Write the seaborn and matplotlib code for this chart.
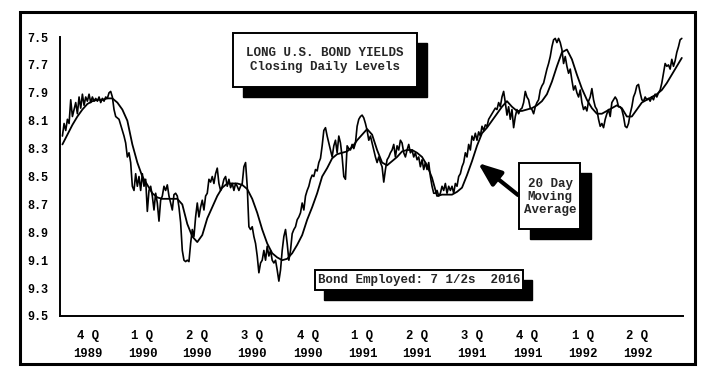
import numpy as np
import pandas as pd
import matplotlib
matplotlib.use("Agg")
import matplotlib.pyplot as plt
from matplotlib.patches import Rectangle, FancyArrowPatch
import seaborn as sns

# =============================================================================
# DATA
# =============================================================================

FIRST_DAY = "1989-10-05"
LAST_DAY = "1992-07-29"

# closing daily yields, evenly spaced samples from first to last day
RAW_YIELD = [
    # 4Q 1989 - 2Q 1990
    8.21, 8.12, 8.17, 8.09, 8.12, 7.95, 8.07, 8.02, 7.97, 8.05,
    7.93, 8.01, 7.91, 7.99, 7.93, 7.96, 7.91, 7.97, 7.93, 7.96,
    7.94, 7.96, 7.93, 7.97, 7.94, 7.96, 7.93, 7.94, 7.90, 7.89,
    7.93, 8.02, 8.07, 8.08, 8.09, 8.13, 8.17, 8.21, 8.26, 8.36,
    8.33, 8.40, 8.57, 8.60, 8.48, 8.57, 8.50, 8.60, 8.48, 8.57,
    8.52, 8.75, 8.60, 8.57, 8.64, 8.74, 8.62, 8.69, 8.82, 8.67,
    8.64, 8.57, 8.60, 8.56, 8.64, 8.69, 8.74, 8.63, 8.62, 8.64,
    8.72, 8.83, 9.03, 9.10, 9.11, 9.10,
    # 2Q 1990 - 4Q 1990
    9.11, 8.98, 8.88, 8.93, 8.79, 8.69, 8.79, 8.72, 8.67, 8.74,
    8.64, 8.62, 8.52, 8.54, 8.50, 8.55, 8.48, 8.44, 8.55, 8.60,
    8.57, 8.52, 8.50, 8.57, 8.52, 8.58, 8.55, 8.60, 8.55, 8.57,
    8.60, 8.57, 8.55, 8.43, 8.40, 8.57, 8.86, 8.88, 8.86, 8.93,
    8.98, 9.07, 9.19, 9.12, 9.10, 9.03, 9.10, 9.00, 9.07, 9.03,
    9.10, 9.12, 9.10, 9.17, 9.25, 9.17, 9.03, 8.93, 8.88, 8.98,
    9.10, 9.03, 8.91, 8.88, 8.86, 8.81, 8.79, 8.76, 8.69, 8.74,
    8.64, 8.60, 8.57,
    # 4Q 1990 - 3Q 1991
    8.52, 8.49, 8.50, 8.45, 8.46, 8.40, 8.37, 8.28, 8.17, 8.15,
    8.21, 8.26, 8.31, 8.36, 8.28, 8.24, 8.33, 8.21, 8.26, 8.36,
    8.50, 8.52, 8.28, 8.30, 8.31, 8.27, 8.30, 8.26, 8.14, 8.09,
    8.07, 8.06, 8.08, 8.12, 8.17, 8.24, 8.21, 8.26, 8.31, 8.36,
    8.40, 8.36, 8.40, 8.43, 8.54, 8.45, 8.38, 8.36, 8.33, 8.31,
    8.27, 8.36, 8.28, 8.31, 8.24, 8.26, 8.33, 8.36, 8.31, 8.27,
    8.33, 8.31, 8.36, 8.33, 8.38, 8.36, 8.43, 8.38, 8.45, 8.40,
    8.45, 8.40, 8.50, 8.57, 8.62,
    # 3Q 1991 - 1Q 1992
    8.62, 8.60, 8.64, 8.62, 8.57, 8.60, 8.55, 8.62, 8.57, 8.60,
    8.57, 8.62, 8.55, 8.57, 8.50, 8.48, 8.43, 8.40, 8.33, 8.36,
    8.27, 8.31, 8.21, 8.24, 8.19, 8.24, 8.18, 8.21, 8.14, 8.17,
    8.13, 8.14, 8.09, 8.07, 8.05, 8.03, 8.01, 8.02, 7.97, 8.00,
    7.93, 7.89, 7.97, 8.06, 8.00, 8.09, 8.02, 8.15, 8.07, 8.02,
    8.05, 8.02, 8.01, 7.97, 7.89, 7.93, 7.95, 8.01, 8.02, 8.05,
    8.00, 7.97, 7.95, 7.88, 7.85, 7.83, 7.78, 7.73, 7.69, 7.64,
    7.57, 7.52, 7.51, 7.54, 7.51,
    # 1Q 1992 - 3Q 1992
    7.54, 7.59, 7.69, 7.64, 7.71, 7.76, 7.73, 7.81, 7.88, 7.85,
    7.90, 7.93, 7.88, 7.97, 8.02, 8.00, 8.03, 7.96, 7.93, 7.87,
    7.95, 8.00, 8.02, 8.09, 8.14, 8.12, 8.15, 8.09, 8.05, 8.02,
    8.07, 7.97, 7.95, 7.93, 7.95, 8.00, 8.00, 8.02, 8.07, 8.14,
    8.15, 8.12, 8.05, 8.00, 7.93, 7.90, 7.85, 7.84, 7.90, 7.95,
    7.96, 7.93, 7.95, 7.94, 7.96, 7.93, 7.95, 7.91, 7.93, 7.90,
    7.88, 7.83, 7.76, 7.69, 7.71, 7.70, 7.73, 7.66, 7.71, 7.67,
    7.61, 7.57, 7.52, 7.51,
]

# 20 day moving average, evenly spaced samples over the same span
MA20_YIELD = [
    8.27, 8.20, 8.13, 8.07, 8.02, 7.98, 7.96, 7.95, 7.95, 7.94,
    7.94, 7.97, 8.02, 8.10, 8.27, 8.40, 8.50, 8.56, 8.62, 8.65,
    8.66, 8.66, 8.66, 8.66, 8.70,
    8.84, 8.93, 8.97, 8.92, 8.80, 8.72, 8.64, 8.58, 8.55, 8.55,
    8.55, 8.56, 8.59, 8.66, 8.76, 8.88, 8.98, 9.05, 9.08, 9.10,
    9.09, 9.05, 8.99, 8.92, 8.81,
    8.72, 8.62, 8.50, 8.44, 8.37, 8.34, 8.33, 8.32, 8.29, 8.24,
    8.20, 8.16, 8.20, 8.31, 8.40, 8.42, 8.39, 8.36, 8.32, 8.31,
    8.31, 8.33, 8.36, 8.42, 8.51,
    8.64, 8.63, 8.63, 8.63, 8.61, 8.58, 8.49, 8.39, 8.28, 8.19,
    8.15, 8.10, 8.05, 8.00, 7.96, 8.00, 8.03, 8.03, 8.02, 8.01,
    7.99, 7.96, 7.91, 7.82, 7.71,
    7.61, 7.59, 7.66, 7.77, 7.87, 7.95, 8.01, 8.05, 8.05, 8.03,
    8.01, 7.99, 8.01, 8.07, 8.07, 8.02, 7.97, 7.95, 7.93, 7.91,
    7.88, 7.83, 7.77, 7.71, 7.65,
]

QUARTER_STARTS = [
    "1989-10-01", "1990-01-01", "1990-04-01", "1990-07-01", "1990-10-01",
    "1991-01-01", "1991-04-01", "1991-07-01", "1991-10-01", "1992-01-01",
    "1992-04-01", "1992-07-01",
]
QUARTER_LABELS = [
    "4 Q\n1989", "1 Q\n1990", "2 Q\n1990", "3 Q\n1990", "4 Q\n1990",
    "1 Q\n1991", "2 Q\n1991", "3 Q\n1991", "4 Q\n1991", "1 Q\n1992",
    "2 Q\n1992",
]
AXIS_END = "1992-07-31"
Y_TICKS = [7.5, 7.7, 7.9, 8.1, 8.3, 8.5, 8.7, 8.9, 9.1, 9.3, 9.5]

TITLE_LINES = "LONG U.S. BOND YIELDS\nClosing Daily Levels"
MA_NOTE = "20 Day\nMoving\nAverage"
BOND_NOTE = "Bond Employed: 7 1/2s  2016"

# =============================================================================
# LAYOUT HELPERS (figure pixels, origin top-left)
# =============================================================================

W, H = 712, 377


def fx(px):
    return px / W


def fy(py):
    return 1 - py / H


def shadow_box(fig, x0, y0, x1, y1, dx=10, dy=10):
    w, h = (x1 - x0) / W, (y1 - y0) / H
    fig.add_artist(Rectangle((fx(x0 + dx), fy(y1 + dy)), w, h,
                             transform=fig.transFigure, facecolor="black",
                             edgecolor="black", zorder=5))
    fig.add_artist(Rectangle((fx(x0), fy(y1)), w, h,
                             transform=fig.transFigure, facecolor="white",
                             edgecolor="black", lw=1.4, zorder=6))


# =============================================================================
# PLOT
# =============================================================================

sns.set_theme(style="white")
plt.rcParams["font.family"] = ["Liberation Mono", "DejaVu Sans Mono"]
plt.rcParams["font.weight"] = "bold"

raw_df = pd.DataFrame({
    "date": pd.date_range(FIRST_DAY, LAST_DAY, periods=len(RAW_YIELD)),
    "yield": RAW_YIELD,
})
ma_df = pd.DataFrame({
    "date": pd.date_range(FIRST_DAY, LAST_DAY, periods=len(MA20_YIELD)),
    "yield": MA20_YIELD,
})

fig = plt.figure(figsize=(W / 100, H / 100), dpi=100)
fig.patch.set_facecolor("white")
ax = fig.add_axes([fx(60), fy(316), (683 - 60) / W, (316 - 37) / H])

sns.lineplot(data=raw_df, x="date", y="yield", color="black", lw=1.2, ax=ax)
sns.lineplot(data=ma_df, x="date", y="yield", color="black", lw=1.3, ax=ax)

q = pd.to_datetime(QUARTER_STARTS)
ax.set_xlim(q[0], pd.Timestamp(AXIS_END))
ax.set_ylim(Y_TICKS[-1], Y_TICKS[0])

ax.set_yticks(Y_TICKS)
ax.set_yticklabels([f"{v:.1f}" for v in Y_TICKS])
ax.set_xticks(q[1:])
ax.set_xticklabels([])
mids = q[:-1] + (q[1:] - q[:-1]) / 2
ax.set_xticks(mids, minor=True)
ax.set_xticklabels(QUARTER_LABELS, minor=True, linespacing=1.65)

ax.tick_params(axis="y", direction="inout", length=6.5, width=1.3,
               pad=5, labelsize=8.5, colors="black")
ax.tick_params(axis="x", which="major", direction="inout", length=6.5,
               width=1.3, colors="black")
ax.tick_params(axis="x", which="minor", length=0, pad=10, labelsize=8.8,
               colors="black")

ax.set_xlabel("")
ax.set_ylabel("")
for side in ("top", "right"):
    ax.spines[side].set_visible(False)
for side in ("left", "bottom"):
    ax.spines[side].set_linewidth(1.4)
    ax.spines[side].set_color("black")
ax.set_facecolor("white")

# outer frame
fig.add_artist(Rectangle((fx(20), fy(364)), (695 - 20) / W, (364 - 12) / H,
                         transform=fig.transFigure, fill=False,
                         edgecolor="black", lw=2.2, zorder=4))

# title box
shadow_box(fig, 233, 33, 417, 87)
fig.text(fx(325), fy(60), TITLE_LINES, ha="center", va="center",
         fontsize=9, linespacing=1.25, zorder=7)

# moving average note with arrow
shadow_box(fig, 519, 163, 580, 229, dx=11, dy=10)
fig.text(fx(550), fy(197), MA_NOTE, ha="center", va="center",
         fontsize=9, linespacing=1.15, zorder=7)
fig.add_artist(FancyArrowPatch(
    posA=(fx(518), fy(195)), posB=(fx(478), fy(163)),
    transform=fig.transFigure,
    arrowstyle="-|>,head_length=1.4,head_width=0.55",
    mutation_scale=10, lw=3, color="black", shrinkA=0, shrinkB=0, zorder=7))

# bond note
shadow_box(fig, 315, 270, 523, 290, dx=9, dy=10)
fig.text(fx(419), fy(280), BOND_NOTE, ha="center", va="center",
         fontsize=9, zorder=7)

fig.savefig("out.png", dpi=100, facecolor="white")
plt.close(fig)
